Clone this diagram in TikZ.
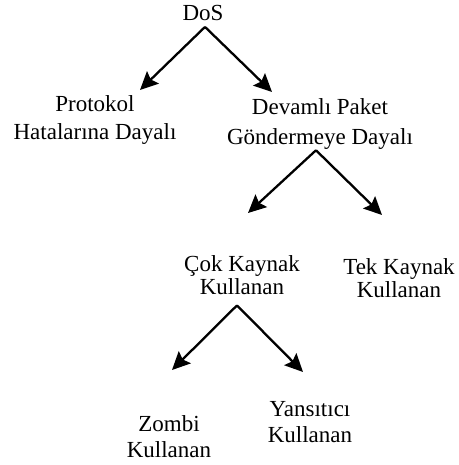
\documentclass[tikz,border=0pt]{standalone}
\usepackage{fontspec}
\setmainfont{Liberation Serif}
\usetikzlibrary{positioning, arrows.meta}

\begin{document}
\begin{tikzpicture}[
    x=1pt, y=1pt,
    dal/.style={
        align=center,
        inner sep=0pt,
        font=\fontsize{23}{26}\selectfont
    },
    ok/.style={
        -{Stealth[length=18pt, width=17pt, inset=3pt]},
        line width=2.3pt
    }
]

\useasboundingbox (0,0) rectangle (458,465);

\node[dal] (dos) at (203,452) {DoS};
\node[dal, font=\fontsize{23}{28}\selectfont] (protokol) at (95,345.4) {Protokol\\Hatalarına Dayalı};
\node[dal, font=\fontsize{23}{30}\selectfont] (devamli) at (320,341.4) {Devamlı Paket\\Göndermeye Dayalı};
\node[dal, font=\fontsize{23}{23}\selectfont] (cok) at (242,189.4) {Çok Kaynak\\Kullanan};
\node[dal, font=\fontsize{23}{23}\selectfont] (tek) at (399,186.4) {Tek Kaynak\\Kullanan};
\node[dal] (zombi) at (169,28) {Zombi\\Kullanan};
\node[dal] (yansitici) at (310,43) {Yansıtıcı\\Kullanan};

\coordinate (ucProtokol) at (140,375);
\coordinate (ucDevamli) at (272,373);
\coordinate (ucCok) at (248,252);
\coordinate (ucTek) at (382,250);
\coordinate (ucZombi) at (172,95);
\coordinate (ucYansitici) at (303,93);

\draw[ok] ([xshift=2pt, yshift=-6pt]dos.south) -- (ucProtokol);
\draw[ok] ([xshift=2pt, yshift=-6pt]dos.south) -- (ucDevamli);
\draw[ok] ([xshift=-4pt, yshift=-1pt]devamli.south) -- (ucCok);
\draw[ok] ([xshift=-4pt, yshift=-1pt]devamli.south) -- (ucTek);
\draw[ok] ([xshift=-5pt, yshift=-10pt]cok.south) -- (ucZombi);
\draw[ok] ([xshift=-5pt, yshift=-10pt]cok.south) -- (ucYansitici);

\end{tikzpicture}
\end{document}
